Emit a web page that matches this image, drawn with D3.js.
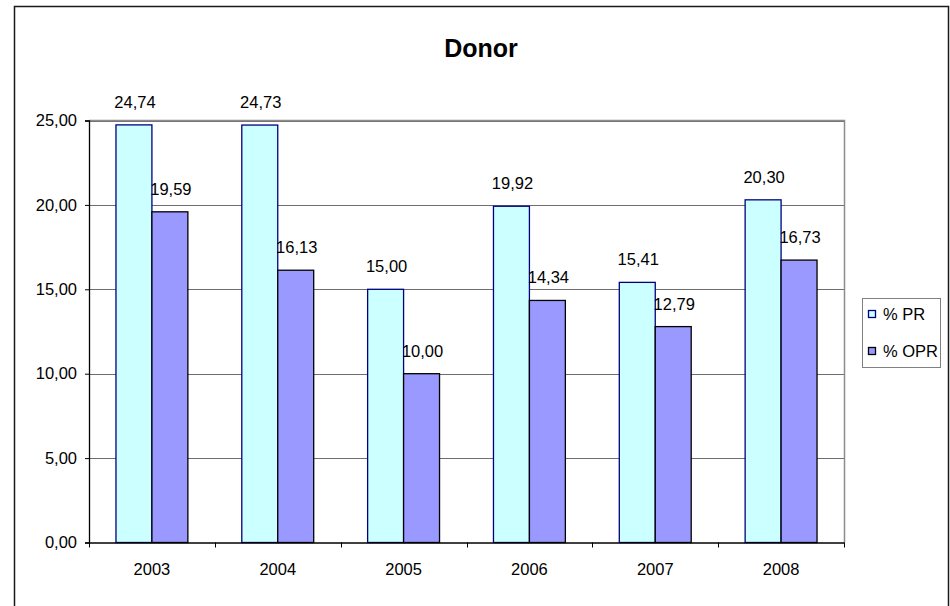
<!DOCTYPE html>
<html>
<head>
<meta charset="utf-8">
<script src="https://cdn.jsdelivr.net/npm/d3@7"></script>
<style>
  body { margin: 0; background: #fff; }
  text { font-family: "Liberation Sans", Arial, Helvetica, sans-serif; fill: #000; }
</style>
</head>
<body>
<svg id="chart" width="950" height="606"></svg>
<script>
// Donor rates per year
const years = ["2003", "2004", "2005", "2006", "2007", "2008"];
const prValues = [24.74, 24.73, 15.00, 19.92, 15.41, 20.30];
const oprValues = [19.59, 16.13, 10.00, 14.34, 12.79, 16.73];
const seriesNames = ["% PR", "% OPR"];
const yTicks = [0, 5, 10, 15, 20, 25];
const chartTitle = "Donor";

const series = [
  { name: seriesNames[0], values: prValues, fill: "#CCFFFF", stroke: "#000080" },
  { name: seriesNames[1], values: oprValues, fill: "#9999FF", stroke: "#000000" }
];

// decimal comma formatting, two decimals
const locale = d3.formatLocale({ decimal: ",", thousands: ".", grouping: [3], currency: ["", " €"] });
const fmt = locale.format(".2f");

const svg = d3.select("#chart");
const W = 950, H = 606;
const plot = { left: 89, right: 844, top: 120.5, bottom: 542.5 };

// outer chart frame
svg.append("rect")
  .attr("x", 14.5).attr("y", 6.5)
  .attr("width", 934).attr("height", 640)
  .attr("fill", "#fff").attr("stroke", "#1a1a1a").attr("stroke-width", 1.5);

const x = d3.scaleBand().domain(years).range([plot.left, plot.right]).paddingInner(0).paddingOuter(0);
// two bars per category with a 150% gap between groups
const gap = x.bandwidth() * 1.5 / 3.5;
const x1 = d3.scaleBand().domain(seriesNames).range([gap / 2, x.bandwidth() - gap / 2]).padding(0);
const y = d3.scaleLinear().domain([0, 25]).range([plot.bottom, plot.top]);

// gridlines
svg.append("g").selectAll("line")
  .data(yTicks.filter(t => t > 0))
  .join("line")
  .attr("x1", plot.left).attr("x2", plot.right)
  .attr("y1", d => Math.round(y(d)) + 0.5).attr("y2", d => Math.round(y(d)) + 0.5)
  .attr("stroke", "#6e6e6e").attr("stroke-width", 1);

// plot area border (top & right)
svg.append("path")
  .attr("d", `M${plot.left},${plot.top}H${plot.right + 0.5}V${plot.bottom}`)
  .attr("fill", "none").attr("stroke", "#8c8c8c").attr("stroke-width", 1.5);

// bars
const groups = svg.append("g").selectAll("g")
  .data(years)
  .join("g")
  .attr("transform", d => `translate(${x(d)},0)`);

groups.selectAll("rect")
  .data((d, i) => series.map(s => ({ s, v: s.values[i] })))
  .join("rect")
  .attr("x", d => x1(d.s.name))
  .attr("y", d => y(d.v))
  .attr("width", x1.bandwidth())
  .attr("height", d => y(0) - y(d.v))
  .attr("fill", d => d.s.fill)
  .attr("stroke", d => d.s.stroke)
  .attr("stroke-width", 1.3);

// value labels
groups.selectAll("text.val")
  .data((d, i) => series.map(s => ({ s, v: s.values[i] })))
  .join("text")
  .attr("class", "val")
  .attr("x", d => x1(d.s.name) + x1.bandwidth() / 2 + 1)
  .attr("y", d => y(d.v) - 17)
  .attr("text-anchor", "middle")
  .style("font-size", "16.5px")
  .text(d => fmt(d.v));

// y axis
const yAxis = svg.append("g")
  .attr("transform", `translate(${plot.left},0)`)
  .call(d3.axisLeft(y).tickValues(yTicks).tickSize(4).tickPadding(8).tickFormat(fmt));
yAxis.select(".domain").attr("stroke", "#000").attr("stroke-width", 1.3);
yAxis.selectAll(".tick line").attr("stroke", "#000");
yAxis.selectAll("text").style("font-size", "16.5px").attr("fill", "#000");

// x axis
const xAxis = svg.append("g")
  .attr("transform", `translate(0,${plot.bottom})`)
  .call(d3.axisBottom(x).tickSize(0).tickPadding(21));
xAxis.select(".domain").attr("stroke", "#000").attr("stroke-width", 1.3);
xAxis.selectAll("text").style("font-size", "16.5px").attr("fill", "#000");

// category boundary ticks
xAxis.append("g").selectAll("line")
  .data(years.map(d => x(d)).concat([x.range()[1]]))
  .join("line")
  .attr("x1", d => Math.round(d) + 0.5).attr("x2", d => Math.round(d) + 0.5)
  .attr("y1", 0).attr("y2", 5)
  .attr("stroke", "#000");

// title
svg.append("text")
  .attr("x", 481).attr("y", 57)
  .attr("text-anchor", "middle")
  .style("font-size", "25px").style("font-weight", "bold")
  .text(chartTitle);

// legend
const legend = svg.append("g").attr("transform", "translate(862,298)");
legend.append("rect")
  .attr("x", 0.5).attr("y", 0.5).attr("width", 78).attr("height", 69)
  .attr("fill", "#fff").attr("stroke", "#808080").attr("stroke-width", 1);
const entries = legend.selectAll("g.entry")
  .data(series)
  .join("g")
  .attr("class", "entry")
  .attr("transform", (d, i) => `translate(0,${16 + i * 37})`);
entries.append("rect")
  .attr("x", 6.5).attr("y", -3.5).attr("width", 7).attr("height", 7)
  .attr("fill", d => d.fill).attr("stroke", d => d.stroke).attr("stroke-width", 1.3);
entries.append("text")
  .attr("x", 21).attr("y", 0).attr("dy", "0.35em")
  .style("font-size", "16.5px")
  .text(d => d.name);
</script>
</body>
</html>
